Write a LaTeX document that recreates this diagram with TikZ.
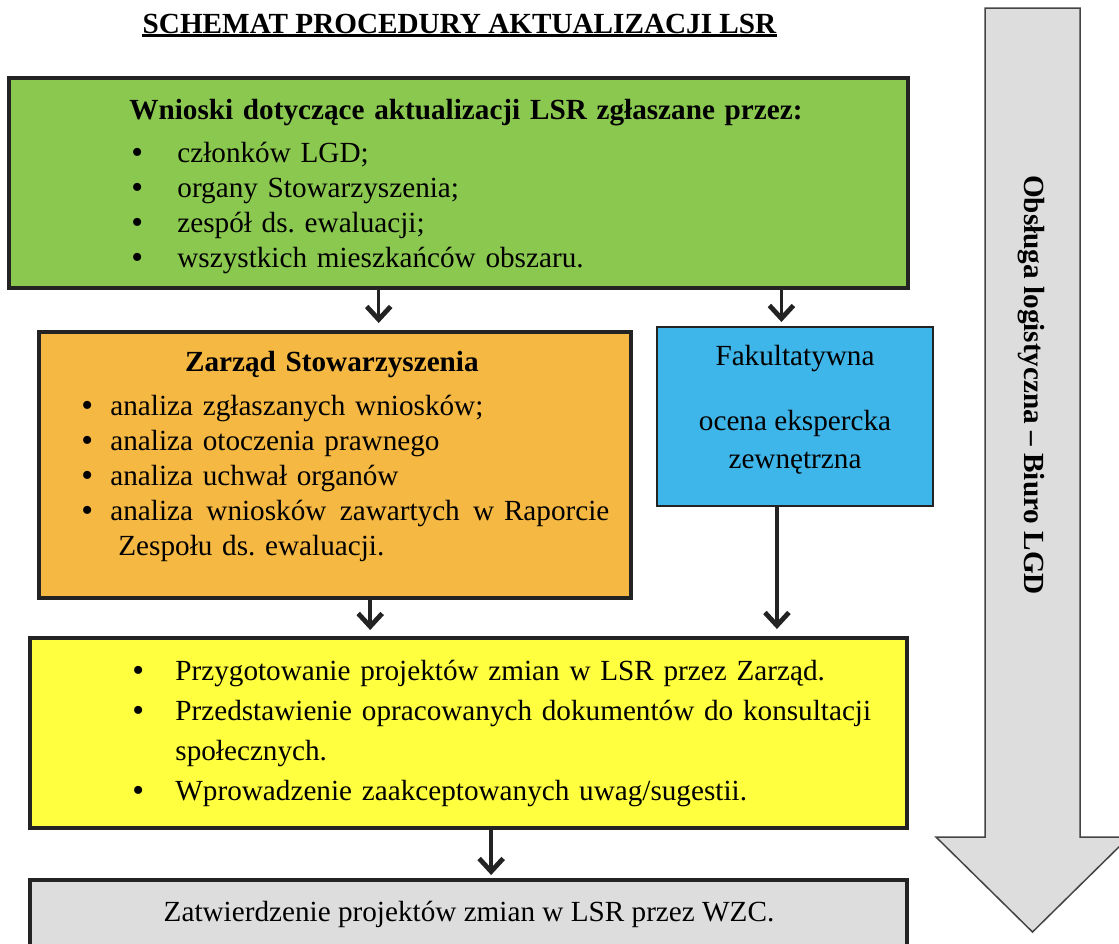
\documentclass[tikz,border=0pt]{standalone}
\usepackage{fontspec}
\setmainfont{Liberation Serif}
\usepackage{tikz}
\usetikzlibrary{calc}
\usetikzlibrary{arrows.meta, fit}
\frenchspacing

\definecolor{zielony}{RGB}{139,200,80}
\definecolor{pomaranczowy}{RGB}{245,184,67}
\definecolor{niebieski}{RGB}{63,182,234}
\definecolor{zolty}{RGB}{255,255,64}
\definecolor{szary}{RGB}{221,221,221}
\definecolor{ramka}{RGB}{35,35,35}

\newcommand{\tekst}{\fontsize{14.6}{17.5}\selectfont} % main text size
\newcommand{\punkt}[2][24pt]{% #1: width of bullet column, #2: item text
  \makebox[#1][l]{\hspace{1pt}\raisebox{-0.04em}{\scalebox{1.15}{\textbullet}}}#2}

\tikzset{
  box/.style={draw=ramka, line width=2pt, inner sep=0pt},
  opis/.style={inner sep=0pt, align=left, font=\tekst},
  strzalka/.style={draw=ramka, line width=1.8pt, -{Straight Barb[length=6.5pt,width=12pt,line width=2.4pt]}}
}

\begin{document}
\begin{tikzpicture}[x=0.5pt, y=-0.5pt]
\useasboundingbox (0,0) rectangle (1119,943);
\clip (0,0) rectangle (1119,943);

% Title, underlined
\node[inner sep=0pt, anchor=base, font=\tekst\bfseries] (tytul) at (459.5,33) {SCHEMAT PROCEDURY AKTUALIZACJI LSR};
\draw[line width=1.3pt] ($(tytul.base west)+(0,2.5)$) -- ($(tytul.base east)+(0,2.5)$);

% Green box, who submits the requests
\node[box, fill=zielony, fit={(9,78) (908,288)}] (wnioski) {};
\node[opis, text width=345pt, anchor=base west] (wnioskitxt) at (129,119) {\textbf{Wnioski dotyczące aktualizacji LSR zgłaszane przez:}\\[4pt]
\punkt{członków LGD;}\\
\punkt{organy Stowarzyszenia;}\\
\punkt{zespół ds. ewaluacji;}\\
\punkt{wszystkich mieszkańców obszaru.}};

% Orange box, board analysis
\node[box, fill=pomaranczowy, fit={(39,332) (631,598)}] (zarzad) {};
\node[opis, text width=265pt, anchor=base west] (zarzadtxt) at (79,371) {\makebox[\linewidth]{\textbf{Zarząd Stowarzyszenia}\hspace{12.5pt}}\\[4.5pt]
\punkt[15.5pt]{analiza zgłaszanych wniosków;}\\
\punkt[15.5pt]{analiza otoczenia prawnego}\\
\punkt[15.5pt]{analiza uchwał organów}\\
\punkt[15.5pt]{analiza\hfill wniosków\hfill zawartych\hfill w Raporcie}\\
\hspace*{19.5pt}Zespołu ds. ewaluacji.};

% Blue box, optional expert opinion
\node[box, line width=1pt, fill=niebieski, fit={(657,327) (933,506)}] (ocena) {};
\node[font=\fontsize{14.6}{19}\selectfont, align=center, inner sep=0pt, anchor=base] (ocenatxt) at (795,468) {Fakultatywna\\[13.5pt] ocena ekspercka\\ zewnętrzna};

% Yellow box, preparing the changes
\node[box, fill=zolty, fit={(30,638) (907,828)}] (projekty) {};
\node[opis, font=\fontsize{14.6}{20}\selectfont, text width=380pt, anchor=base west] (projektytxt) at (130,680) {\punkt[22.5pt]{Przygotowanie projektów zmian w LSR przez Zarząd.}\\
\punkt[22.5pt]{Przedstawienie opracowanych dokumentów do konsultacji}\\
\hspace*{22.5pt}społecznych.\\
\punkt[22.5pt]{Wprowadzenie zaakceptowanych uwag/sugestii.}};

% Gray box, approval
\node[box, fill=szary, fit={(30,880) (907,950)}] (zatwierdzenie) {};
\node[inner sep=0pt, anchor=base, font=\tekst] (zatwierdzenietxt) at (469,921) {Zatwierdzenie projektów zmian w LSR przez WZC.};

% Big arrow on the right
\draw[draw=ramka!85, line width=0.75pt, fill=szary] (985,8) -- (1080,8) -- (1080,837) -- (1129,837) -- (1032.5,932) -- (936,837) -- (985,837) -- cycle;
\node[font=\tekst\bfseries, rotate=-90] (biuro) at (1031,385) {Obsługa logistyczna – Biuro LGD};

% Arrows between the boxes
\coordinate (s1) at ($(wnioski.south west)!0.4116!(wnioski.south east)$);
\coordinate (s2) at ($(wnioski.south west)!0.8576!(wnioski.south east)$);
\coordinate (s3) at ($(zarzad.south west)!0.559!(zarzad.south east)$);
\coordinate (s4) at ($(ocena.south west)!0.435!(ocena.south east)$);
\coordinate (s5) at ($(projekty.south west)!0.5257!(projekty.south east)$);
\draw[strzalka, shorten >=3.5pt] (s1) -- (s1 |- zarzad.north);
\draw[strzalka, shorten >=2pt] (s2) -- (s2 |- ocena.north);
\draw[strzalka, shorten >=3pt] (s3) -- (s3 |- projekty.north);
\draw[strzalka, shorten >=3.5pt] (s4) -- (s4 |- projekty.north);
\draw[strzalka, shorten >=1.5pt] (s5) -- (s5 |- zatwierdzenie.north);

\end{tikzpicture}
\end{document}
